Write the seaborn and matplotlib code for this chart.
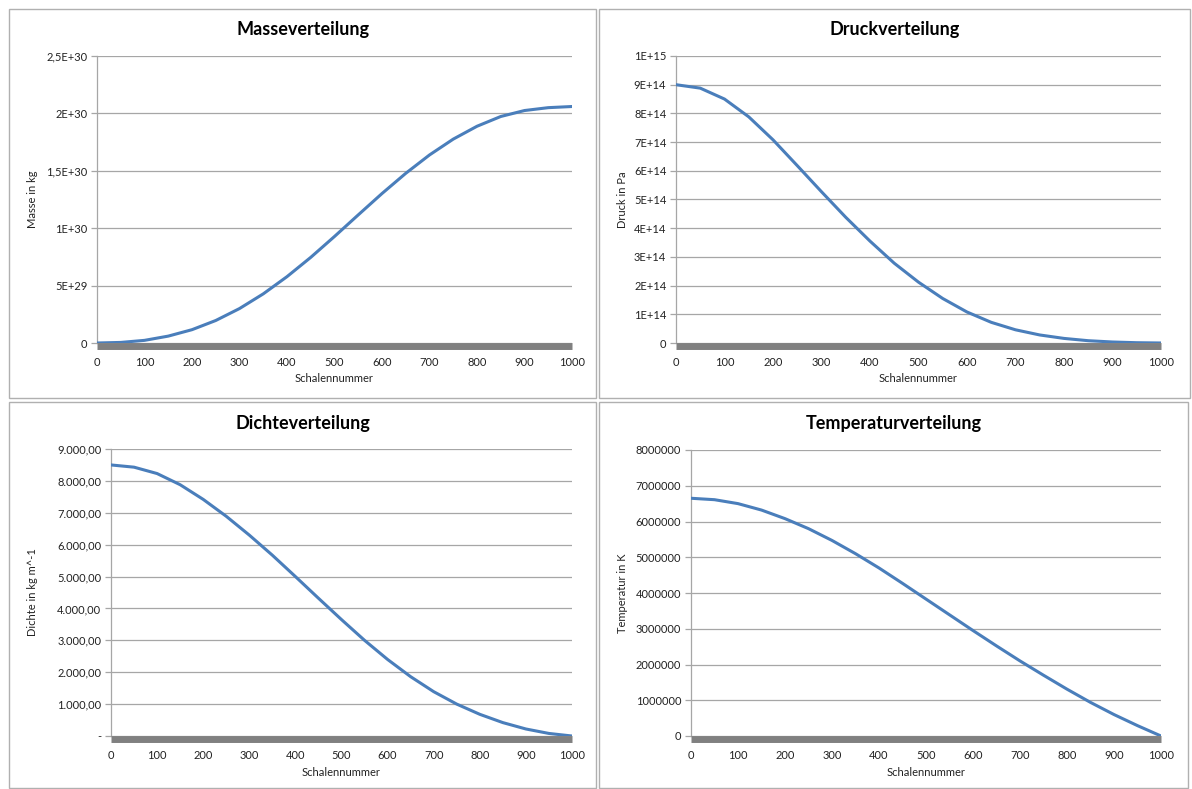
import matplotlib
matplotlib.use("Agg")
import matplotlib.pyplot as plt
import seaborn as sns
import pandas as pd
from matplotlib.patches import Rectangle

sns.set_style("white")
plt.rcParams['font.family'] = ['Lato', 'DejaVu Sans']

# ---- data ----
schale = [0, 50, 100, 150, 200, 250, 300, 350, 400, 450, 500, 550, 600, 650, 700, 750, 800, 850, 900, 950, 1000]
masse = [0.0, 0.005e30, 0.023e30, 0.06e30, 0.116e30, 0.196e30, 0.30e30, 0.428e30, 0.578e30, 0.746e30,
         0.928e30, 1.116e30, 1.302e30, 1.478e30, 1.638e30, 1.776e30, 1.888e30, 1.973e30, 2.025e30,
         2.05e30, 2.06e30]
druck = [9.0e14, 8.88e14, 8.5e14, 7.88e14, 7.08e14, 6.18e14, 5.27e14, 4.38e14, 3.55e14, 2.78e14, 2.12e14,
         1.55e14, 1.08e14, 0.72e14, 0.46e14, 0.28e14, 0.16e14, 0.08e14, 0.035e14, 0.01e14, 0.0]
dichte = [8500, 8430, 8230, 7880, 7420, 6890, 6300, 5670, 5000, 4320, 3650, 3000, 2400, 1860, 1390,
          1000, 680, 420, 220, 80, 0]
temperatur = [6650000, 6610000, 6500000, 6320000, 6080000, 5800000, 5470000, 5100000, 4700000, 4270000,
              3830000, 3390000, 2950000, 2520000, 2100000, 1700000, 1310000, 940000, 600000, 290000, 0]

titles = ["Masseverteilung", "Druckverteilung", "Dichteverteilung", "Temperaturverteilung"]
ylabels = ["Masse in kg", "Druck in Pa", "Dichte in kg m^-1", "Temperatur in K"]
xlabel = "Schalennummer"

mass_ticks = [0, 5e29, 1e30, 1.5e30, 2e30, 2.5e30]
mass_labels = ["0", "5E+29", "1E+30", "1,5E+30", "2E+30", "2,5E+30"]
druck_ticks = [i * 1e14 for i in range(11)]
druck_labels = ["0"] + [f"{i}E+14" for i in range(1, 10)] + ["1E+15"]
dichte_ticks = [i * 1000 for i in range(10)]
dichte_labels = ["-"] + [f"{i}.000,00" for i in range(1, 10)]
temp_ticks = [i * 1000000 for i in range(9)]
temp_labels = [str(int(t)) for t in temp_ticks]
x_ticks = list(range(0, 1001, 100))

W, H = 1192, 789
fig = plt.figure(figsize=(W / 100, H / 100), dpi=100)

# panel borders (px: x0, y0, x1, y1)
boxes = [(9, 9, 596, 398), (599, 9, 1190, 398), (9, 402, 596, 788), (599, 402, 1188, 788)]
for (x0, y0, x1, y1) in boxes:
    fig.patches.append(Rectangle((x0 / W, 1 - y1 / H), (x1 - x0) / W, (y1 - y0) / H,
                                 transform=fig.transFigure, fill=False, edgecolor="#B0B0B0", lw=1.0))

# plot areas (px: left, right, y_zero, y_top)
areas = [(97, 572, 343, 56), (676, 1161, 343, 56), (111, 572, 736, 449), (691, 1161, 736, 450)]
series = [masse, druck, dichte, temperatur]
yticks = [(mass_ticks, mass_labels), (druck_ticks, druck_labels), (dichte_ticks, dichte_labels),
          (temp_ticks, temp_labels)]
ylabel_x = [32, 622, 32, 622]

for i in range(4):
    l, r, yb, yt = areas[i]
    ax = fig.add_axes([l / W, 1 - yb / H, (r - l) / W, (yb - yt) / H])
    df = pd.DataFrame({"x": schale, "y": series[i]})
    sns.lineplot(data=df, x="x", y="y", ax=ax, color="#4A7EBB", lw=2.2, zorder=5)
    for ln in ax.get_lines():
        ln.set_solid_joinstyle("round")
    t, lab = yticks[i]
    ax.set_ylim(t[0], t[-1])
    ax.set_xlim(0, 1000)
    ax.set_yticks(t)
    ax.set_yticklabels(lab)
    ax.set_xticks(x_ticks)
    ax.set_xticklabels([str(x) for x in x_ticks])
    ax.set_xlabel("")
    ax.set_ylabel("")
    ax.yaxis.grid(True, color="#A6A6A6", lw=0.9)
    ax.xaxis.grid(False)
    for s in ["top", "right"]:
        ax.spines[s].set_visible(False)
    ax.spines["left"].set_color("#A6A6A6")
    ax.spines["left"].set_linewidth(0.9)
    ax.spines["bottom"].set_color("#808080")
    ax.spines["bottom"].set_linewidth(5)
    ax.spines["bottom"].set_position(("outward", 2.5))
    ax.spines["bottom"].set_capstyle("butt")
    ax.tick_params(axis="y", which="both", left=True, length=4, width=0.9, color="#A6A6A6",
                   labelsize=8, labelcolor="#222222", pad=3)
    ax.tick_params(axis="x", which="both", bottom=False, labelsize=8, labelcolor="#222222", pad=4)
    # titles and labels
    x0, y0, x1, y1 = boxes[i]
    fig.text((x0 + x1) / 2 / W, 1 - (y0 + 21) / H, titles[i], ha="center", va="center",
             fontsize=13, fontweight="bold", color="#000000")
    fig.text((l + r) / 2 / W, 1 - (yb + 36) / H, xlabel, ha="center", va="center",
             fontsize=8, color="#222222")
    fig.text(ylabel_x[i] / W, 1 - (yb + yt) / 2 / H, ylabels[i], ha="center", va="center",
             rotation=90, fontsize=8, color="#222222")

fig.savefig("out.png", dpi=100)
